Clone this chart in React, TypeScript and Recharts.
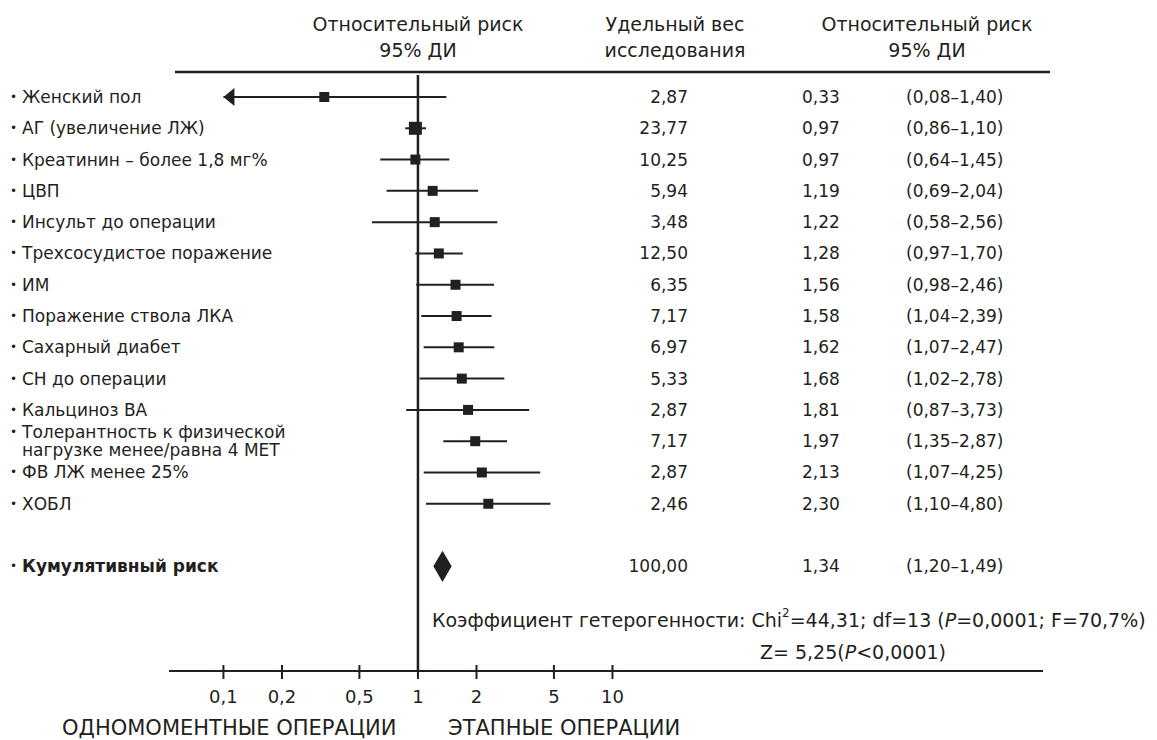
import React from 'react';
import { ScatterChart, Scatter, XAxis, YAxis, ErrorBar, ReferenceLine, ReferenceArea } from 'recharts';

// study rows (top to bottom)
const labels = [
  'Женский пол',
  'АГ (увеличение ЛЖ)',
  'Креатинин – более 1,8 мг%',
  'ЦВП',
  'Инсульт до операции',
  'Трехсосудистое поражение',
  'ИМ',
  'Поражение ствола ЛКА',
  'Сахарный диабет',
  'СН до операции',
  'Кальциноз ВА',
  'Толерантность к физической\nнагрузке менее/равна 4 МЕТ',
  'ФВ ЛЖ менее 25%',
  'ХОБЛ',
];
const weights = [2.87, 23.77, 10.25, 5.94, 3.48, 12.5, 6.35, 7.17, 6.97, 5.33, 2.87, 7.17, 2.87, 2.46];
const riskRatio = [0.33, 0.97, 0.97, 1.19, 1.22, 1.28, 1.56, 1.58, 1.62, 1.68, 1.81, 1.97, 2.13, 2.3];
const ciLow = [0.08, 0.86, 0.64, 0.69, 0.58, 0.97, 0.98, 1.04, 1.07, 1.02, 0.87, 1.35, 1.07, 1.1];
const ciHigh = [1.4, 1.1, 1.45, 2.04, 2.56, 1.7, 2.46, 2.39, 2.47, 2.78, 3.73, 2.87, 4.25, 4.8];

// cumulative (pooled) estimate
const pooledLabel = 'Кумулятивный риск';
const pooledWeight = 100;
const pooledRR = 1.34;
const pooledLow = 1.2;
const pooledHigh = 1.49;

const xTicks = [0.1, 0.2, 0.5, 1, 2, 5, 10];

const INK = '#231f20';
const FONT = '"DejaVu Sans", sans-serif';
const ARROW_MIN = xTicks[0];

const studyData = labels.map((label, i) => ({
  label,
  row: i,
  x: riskRatio[i],
  weight: weights[i],
  err: [riskRatio[i] - Math.max(ciLow[i], ARROW_MIN), ciHigh[i] - riskRatio[i]],
}));
const arrowData = studyData
  .filter((d, i) => ciLow[i] < ARROW_MIN)
  .map((d) => ({ x: ARROW_MIN, row: d.row }));
const pooledRow = labels.length + 1;
const rowTicks = [...studyData.map((d) => d.row), pooledRow];

const fmt = (v: number) => v.toFixed(2).replace('.', ',');

const SquareShape = (props: any) => {
  const { cx, cy, payload } = props;
  const s = payload.weight > 20 ? 13 : 10;
  return <rect x={cx - s / 2} y={cy - s / 2} width={s} height={s} fill={INK} />;
};

const ArrowShape = (props: any) => {
  const { cx, cy } = props;
  return <polygon points={`${cx},${cy} ${cx + 11},${cy - 9} ${cx + 11},${cy + 9}`} fill={INK} />;
};

const DiamondShape = (props: any) => {
  const { x, y, width, height } = props;
  const mx = x + width / 2;
  const my = y + height / 2;
  return <polygon points={`${x},${my} ${mx},${y} ${x + width},${my} ${mx},${y + height}`} fill={INK} />;
};

const RowTick = (props: any) => {
  const { y, payload } = props;
  const i = payload.value;
  const isPooled = i === pooledRow;
  const label = isPooled ? pooledLabel : labels[i];
  const w = isPooled ? pooledWeight : weights[i];
  const r = isPooled ? pooledRR : riskRatio[i];
  const lo = isPooled ? pooledLow : ciLow[i];
  const hi = isPooled ? pooledHigh : ciHigh[i];
  const lines = label.split('\n');
  const lineH = 18;
  const top = y - ((lines.length - 1) * lineH) / 2;
  return (
    <g fill={INK} fontFamily={FONT} fontSize={17}>
      <text x={10} y={top} dominantBaseline="central" fontSize={12}>•</text>
      {lines.map((ln, k) => (
        <text key={k} x={22} y={top + k * lineH} dominantBaseline="central" fontWeight={isPooled ? 'bold' : 'normal'}>
          {ln}
        </text>
      ))}
      <text x={688} y={y} textAnchor="end" dominantBaseline="central">{fmt(w)}</text>
      <text x={802} y={y} dominantBaseline="central">{fmt(r)}</text>
      <text x={906} y={y} dominantBaseline="central">{`(${fmt(lo)}–${fmt(hi)})`}</text>
    </g>
  );
};

const AxisTick = (props: any) => {
  const { x, y, payload } = props;
  return (
    <g>
      <line x1={x} x2={x} y1={y - 6} y2={y + 8} stroke={INK} strokeWidth={2} />
      <text x={x} y={y + 25} textAnchor="middle" dominantBaseline="central" fill={INK} fontFamily={FONT} fontSize={18}>
        {String(payload.value).replace('.', ',')}
      </text>
    </g>
  );
};

export default function App() {
  return (
    <div style={{ position: 'absolute', left: 0, top: 0, width: 1157, height: 740, background: '#fff' }}>
      <ScatterChart width={1157} height={740} margin={{ top: 75, right: 114, left: 0, bottom: 0 }}>
        <XAxis
          type="number"
          dataKey="x"
          scale="log"
          domain={[0.0525, 1634]}
          allowDataOverflow
          ticks={xTicks}
          interval={0}
          height={69}
          tickSize={0}
          tickMargin={0}
          tickLine={false}
          axisLine={{ stroke: INK, strokeWidth: 2 }}
          tick={<AxisTick />}
        />
        <YAxis
          type="number"
          dataKey="row"
          domain={[-0.703, 18.344]}
          allowDataOverflow
          reversed
          ticks={rowTicks}
          interval={0}
          width={169}
          axisLine={false}
          tickLine={false}
          tick={<RowTick />}
        />
        <ReferenceLine x={1} stroke={INK} strokeWidth={2.5} />
        <ReferenceArea
          x1={pooledLow}
          x2={pooledHigh}
          y1={pooledRow - 0.5}
          y2={pooledRow + 0.5}
          shape={<DiamondShape />}
        />
        <Scatter data={studyData} shape={<SquareShape />} isAnimationActive={false}>
          <ErrorBar dataKey="err" direction="x" width={0} stroke={INK} strokeWidth={2} isAnimationActive={false} />
        </Scatter>
        <Scatter data={arrowData} shape={<ArrowShape />} isAnimationActive={false} />
      </ScatterChart>
      <svg
        width={1157}
        height={740}
        style={{ position: 'absolute', left: 0, top: 0, pointerEvents: 'none' }}
        fontFamily={FONT}
        fill={INK}
      >
        <g fontSize={19} textAnchor="middle" dominantBaseline="central">
          <text x={418} y={24}>Относительный риск</text>
          <text x={418} y={50}>95% ДИ</text>
          <text x={675} y={24}>Удельный вес</text>
          <text x={675} y={50}>исследования</text>
          <text x={927} y={24}>Относительный риск</text>
          <text x={927} y={50}>95% ДИ</text>
        </g>
        <line x1={175} x2={1050} y1={72} y2={72} stroke={INK} strokeWidth={2.5} />
        <g fontSize={19} dominantBaseline="central">
          <text x={432} y={620}>
            Коэффициент гетерогенности: Chi
            <tspan fontSize={12} dy={-7}>2</tspan>
            <tspan dy={7}>=44,31; df=13 (</tspan>
            <tspan fontStyle="italic">P</tspan>
            <tspan>=0,0001; F=70,7%)</tspan>
          </text>
          <text x={760} y={652}>
            Z= 5,25(<tspan fontStyle="italic">P</tspan>
            {'<0,0001)'}
          </text>
        </g>
        <g fontSize={21} dominantBaseline="central">
          <text x={62} y={728}>ОДНОМОМЕНТНЫЕ ОПЕРАЦИИ</text>
          <text x={448} y={728}>ЭТАПНЫЕ ОПЕРАЦИИ</text>
        </g>
      </svg>
    </div>
  );
}
